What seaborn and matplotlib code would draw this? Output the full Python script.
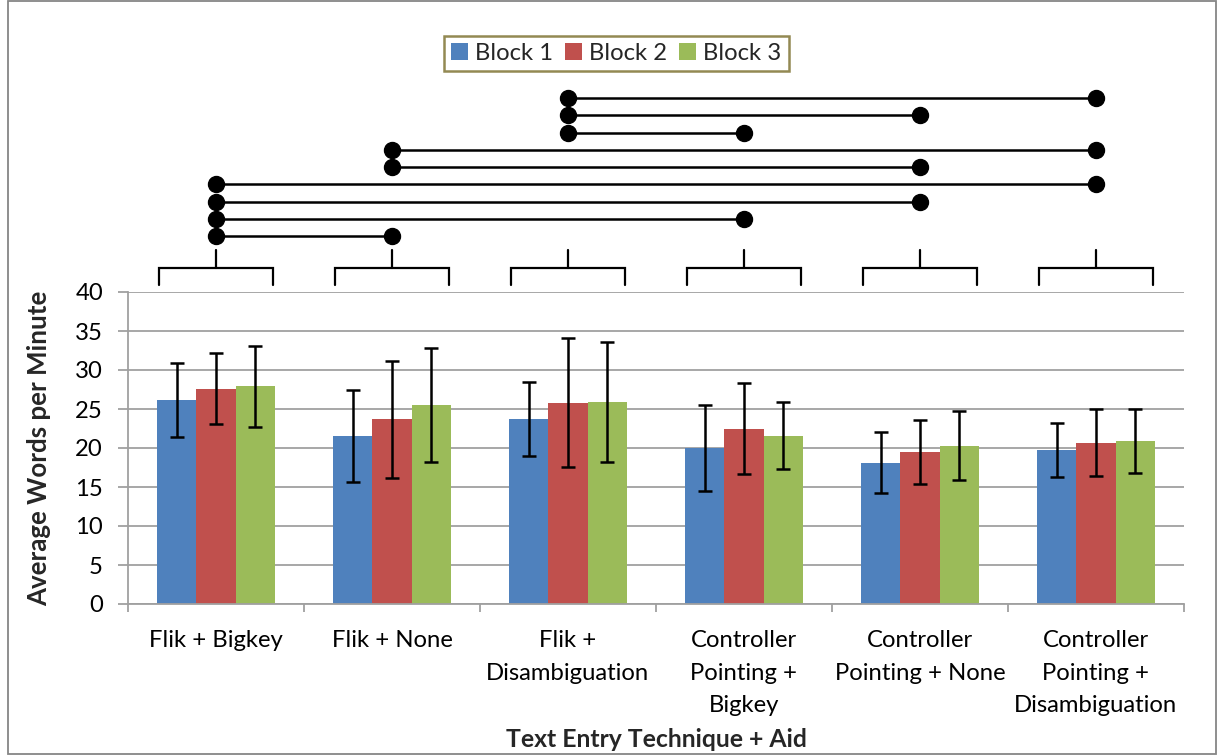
import matplotlib
matplotlib.use("Agg")
import matplotlib.pyplot as plt
import seaborn as sns
import pandas as pd
from matplotlib.patches import Rectangle

# ---- data -------------------------------------------------------------
techniques = [
    "Flik + Bigkey",
    "Flik + None",
    "Flik +\nDisambiguation",
    "Controller\nPointing +\nBigkey",
    "Controller\nPointing + None",
    "Controller\nPointing +\nDisambiguation",
]
blocks = ["Block 1", "Block 2", "Block 3"]

block1_mean = [26.2, 21.6, 23.7, 20.0, 18.1, 19.7]
block2_mean = [27.6, 23.7, 25.8, 22.5, 19.5, 20.7]
block3_mean = [27.9, 25.5, 25.9, 21.6, 20.3, 20.9]

block1_err = [4.75, 5.90, 4.70, 5.55, 3.90, 3.45]
block2_err = [4.55, 7.50, 8.25, 5.85, 4.15, 4.35]
block3_err = [5.15, 7.35, 7.75, 4.25, 4.45, 4.10]

# significant pairwise differences between techniques (index pairs),
# stacked from the lowest line to the highest
sig_pairs = [(0, 1), (0, 3), (0, 4), (0, 5), (1, 4), (1, 5), (2, 3), (2, 4), (2, 5)]

y_ticks = [0, 5, 10, 15, 20, 25, 30, 35, 40]

# ---- styling ----------------------------------------------------------
colors = ["#4F81BD", "#C0504D", "#9BBB59"]
grid_gray = "#A0A0A0"
FONT = "Lato"
FS = 17.2
FS_BOLD = 17.8

sns.set_theme(style="white")
plt.rcParams["font.family"] = [FONT, "DejaVu Sans"]

W, H = 1223, 755
fig = plt.figure(figsize=(W / 100, H / 100), dpi=100)

# main plotting area (pixel box 128..1184 x 292..604)
L, R, T, B = 128, 1184, 292, 604
ax = fig.add_axes([L / W, 1 - B / H, (R - L) / W, (B - T) / H])

df = pd.DataFrame({
    "technique": techniques * 3,
    "block": [b for b in blocks for _ in techniques],
    "wpm": block1_mean + block2_mean + block3_mean,
})

sns.barplot(data=df, x="technique", y="wpm", hue="block", order=techniques,
            hue_order=blocks, palette=colors, saturation=1, width=0.668,
            errorbar=None, linewidth=0, ax=ax, legend=True)

# error bars centred on each bar
for cont, errs, means in zip(ax.containers,
                             [block1_err, block2_err, block3_err],
                             [block1_mean, block2_mean, block3_mean]):
    xs = [p.get_x() + p.get_width() / 2 for p in cont.patches]
    ax.errorbar(xs, means, yerr=errs, fmt="none", ecolor="black",
                elinewidth=1.8, capsize=5, capthick=1.8, zorder=5)

ax.set_ylim(0, 40)
ax.set_xlim(-0.5, len(techniques) - 0.5)
ax.set_yticks(y_ticks)
ax.set_yticklabels([str(v) for v in y_ticks], fontsize=FS, color="black")
ax.yaxis.grid(True, color=grid_gray, linewidth=1.3)
ax.set_axisbelow(True)

# category labels at centres, tick marks at category boundaries
ax.set_xticks(range(len(techniques)))
ax.set_xticklabels(techniques, fontsize=FS, color="black", linespacing=1.7,
                   va="top")
ax.set_xticks([i - 0.5 for i in range(len(techniques) + 1)], minor=True)
ax.tick_params(axis="x", which="major", length=0, pad=18.5)
ax.tick_params(axis="x", which="minor", length=6, width=1.3, color=grid_gray,
               direction="out", bottom=True)
ax.tick_params(axis="y", length=7, width=1.3, color=grid_gray, direction="out",
               left=True, pad=11)

for side in ["top", "right"]:
    ax.spines[side].set_visible(False)
for side in ["left", "bottom"]:
    ax.spines[side].set_color(grid_gray)
    ax.spines[side].set_linewidth(1.3)

ax.set_xlabel("Text Entry Technique + Aid", fontsize=FS_BOLD, fontweight="bold",
              labelpad=8)
ax.set_ylabel("Average Words per Minute", fontsize=18.6, fontweight="bold",
              labelpad=17)

# legend above the comparison lines
handles, labels = ax.get_legend_handles_labels()
ax.legend_.remove()
leg = fig.legend(handles, labels, loc="center", ncol=3,
                 bbox_to_anchor=(616.5 / W, 1 - 53.5 / H), frameon=True,
                 fancybox=False, framealpha=1, edgecolor="#938953",
                 fontsize=FS, handlelength=0.7, handleheight=0.7,
                 handletextpad=0.3, columnspacing=0.5, borderpad=0.3,
                 borderaxespad=0)
leg.get_frame().set_linewidth(1.8)

# ---- comparison brackets and lines above the bars --------------------
top = fig.add_axes([L / W, 1 - T / H, (R - L) / W, T / H], sharex=ax)
top.set_ylim(0, T)
top.axis("off")

half = 0.325
leg_bottom, bracket_y, stem_top = 7, 24, 42
for i in range(len(techniques)):
    top.plot([i - half, i - half, i + half, i + half],
             [leg_bottom, bracket_y, bracket_y, leg_bottom],
             color="black", linewidth=1.6, solid_joinstyle="miter")
    top.plot([i, i], [bracket_y, stem_top], color="black", linewidth=1.6)

base_level, step = 56, 17.25
for k, (a, b) in enumerate(sig_pairs):
    y = base_level + k * step
    top.plot([a, b], [y, y], color="black", linewidth=1.8,
             marker="o", markersize=11.5, markerfacecolor="black",
             markeredgecolor="black")

# thin chart-area frame
fig.patches.append(Rectangle((8 / W, 1 / H), (1216 - 8) / W, (754 - 1) / H,
                             transform=fig.transFigure, fill=False,
                             edgecolor="#868686", linewidth=1.3))

fig.savefig("out.png", dpi=100)
